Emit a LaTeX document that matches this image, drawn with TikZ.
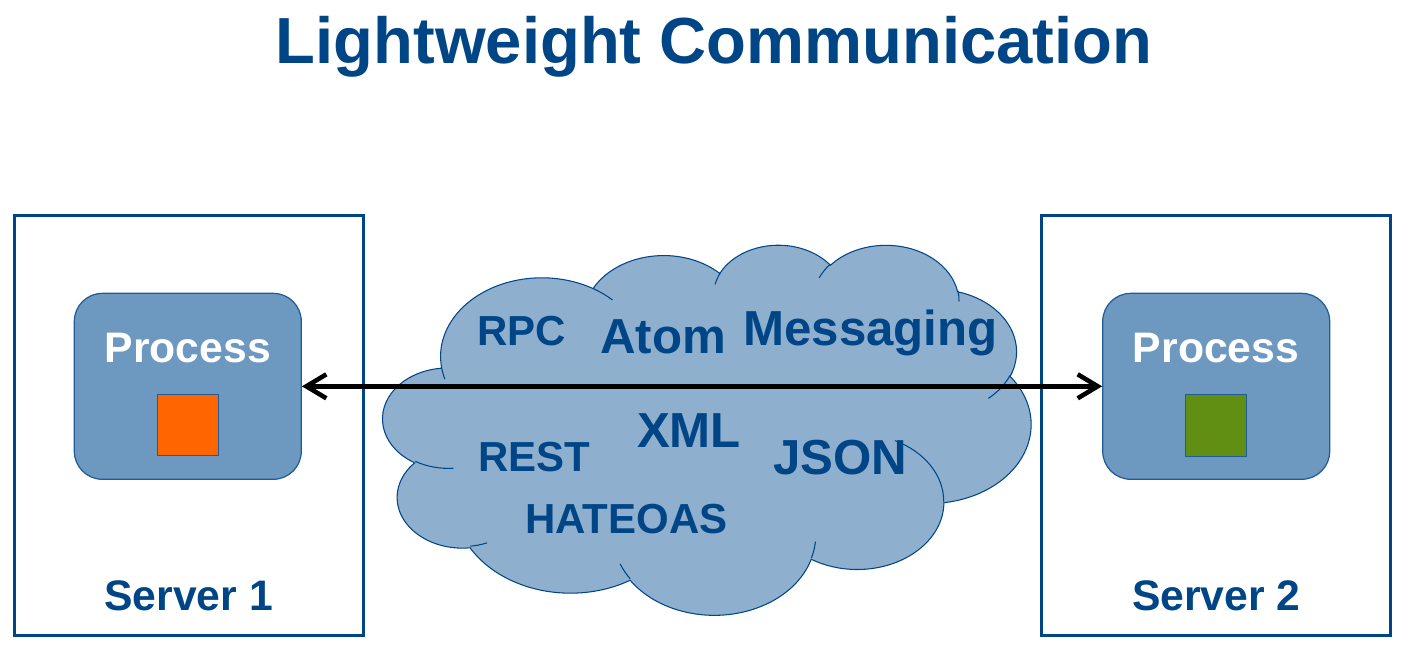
\documentclass[tikz,border=0pt]{standalone}
\usepackage{fontspec}
\setmainfont{Liberation Sans}
\usetikzlibrary{arrows.meta}
\definecolor{dblue}{HTML}{004586}
\definecolor{procfill}{HTML}{6D98C0}
\definecolor{cloudfill}{HTML}{8FAFCE}
\definecolor{procline}{HTML}{1F5C99}
\definecolor{orangesq}{HTML}{FF6600}
\definecolor{greensq}{HTML}{618F13}
% arc of the cloud outline: id, wR, hR, start angle, sweep (visual angles, y down)
\newcommand\cldprep[5]{%
  \pgfmathsetmacro\cldta{-((#4)+mod(atan2((#2)*sin(#4),(#3)*cos(#4))-(#4)+540,360)-180)}%
  \pgfmathsetmacro\cldtb{-((#4)+(#5)+mod(atan2((#2)*sin((#4)+(#5)),(#3)*cos((#4)+(#5)))-((#4)+(#5))+540,360)-180)}%
  \pgfmathsetmacro\cldrx{(#2)/432*0.1296}%
  \pgfmathsetmacro\cldry{(#3)/432*0.074}%
  \expandafter\xdef\csname cld#1\endcsname{ arc[x radius=\cldrx cm, y radius=\cldry cm, start angle=\cldta, end angle=\cldtb]}%
}
\begin{document}
\begin{tikzpicture}[x=0.02cm,y=-0.02cm,
  server/.style={draw=dblue,line width=1.7pt,minimum width=6.98cm,minimum height=8.4cm,inner sep=0pt},
  proc/.style={draw=procline,fill=procfill,line width=0.7pt,rounded corners=0.56cm,minimum width=4.54cm,minimum height=3.72cm,inner sep=0pt},
  sq/.style={draw=procline,line width=0.6pt,minimum size=1.23cm,inner sep=0pt},
  lbl/.style={font=\bfseries\fontsize{24.3}{28}\selectfont,text=dblue,anchor=base,inner sep=0pt},
  plbl/.style={lbl,text=white},
  small/.style={font=\bfseries\fontsize{23.9}{28}\selectfont,text=dblue,anchor=base,inner sep=0pt},
  big/.style={font=\bfseries\fontsize{28}{32}\selectfont,text=dblue,anchor=base,inner sep=0pt},
  titlestyle/.style={font=\bfseries\fontsize{37.1}{42}\selectfont,text=dblue,anchor=base,inner sep=0pt},
  cloudshape/.style={fill=cloudfill,draw=dblue,line width=0.6pt},
  cloudhint/.style={draw=dblue,line width=0.6pt},
  link/.style={line width=2.6pt,black,{Straight Barb[length=0.4cm,width=0.48cm]}-{Straight Barb[length=0.4cm,width=0.48cm]}}
]
\useasboundingbox (0,0) rectangle (1408,657);

\node[titlestyle] (title) at (714,63) {Lightweight Communication};

% servers
\node[server] (s1) at (188.75,425.5) {};
\node[server] (s2) at (1216.25,425.5) {};
\node[lbl] (s1l) at (188.7,610.5) {Server 1};
\node[lbl] (s2l) at (1216.3,610.5) {Server 2};

% processes
\node[proc] (p1) at (187.8,386.3) {};
\node[proc] (p2) at (1216.2,386.3) {};
\node[plbl] (p1l) at (187.8,362) {Process};
\node[plbl] (p2l) at (1216,362) {Process};
\node[sq,fill=orangesq] (q1) at (188,425.2) {};
\node[sq,fill=greensq] (q2) at (1216,425.3) {};

% cloud
\cldprep{a}{6753}{9190}{-190.48748}{123.78053}
\cldprep{b}{5333}{7267}{-144.10238}{89.94523}
\cldprep{c}{4365}{5945}{-145.80792}{99.72302}
\cldprep{d}{4857}{6595}{-130.98607}{117.24173}
\cldprep{e}{5333}{7273}{-78.70888}{109.02692}
\cldprep{f}{6775}{9220}{-46.26725}{130.269}
\cldprep{g}{5785}{7867}{0.62502}{114.03333}
\cldprep{h}{6752}{9215}{22.4516}{115.17255}
\cldprep{i}{7720}{10543}{66.24263}{75.71102}
\cldprep{j}{4360}{5918}{-274.94208}{146.73557}
\cldprep{k}{4345}{5945}{-246.8285}{152.51885}
\cldprep{ha}{4345}{5945}{86.742}{26.4295}
\cldprep{hb}{4360}{5918}{73.61047}{11.44747}
\cldprep{hc}{6752}{9215}{137.62415}{14.0811}
\cldprep{hd}{6752}{9215}{6.45327}{15.99835}
\cldprep{he}{5785}{7867}{-70.29235}{70.91737}
\cldprep{hf}{5333}{7273}{30.31803}{27.7515}
\cldprep{hg}{4857}{6595}{-13.74433}{14.8589}
\cldprep{hh}{4857}{6595}{-149.18145}{18.19537}
\cldprep{hi}{4365}{5945}{-163.49427}{17.68635}
\cldprep{hj}{6753}{9190}{-66.70695}{12.31935}
\cldprep{hk}{6753}{9190}{157.65435}{11.85817}

\path[cloudshape] (441.5,367.08) \clda\cldb\cldc\cldd\clde\cldf\cldg\cldh\cldi\cldj\cldk -- cycle;
\path[cloudhint]
  (453.395,468.20) \cldha
  (486.92,542.90) \cldhb
  (630.17,578.80) \cldhc
  (815.405,541.64) \cldhd
  (894.935,440.60) \cldhe
  (1009.97,375.50) \cldhf
  (957.86,290.47) \cldhg
  (819.17,277.85) \cldhh
  (715.115,284.43) \cldhi
  (593,288.47) \cldhj
  (444.905,379.23) \cldhk;

% cloud texts
\node[small] (rpc) at (521.5,345) {RPC};
\node[big] (atom) at (663,353) {Atom};
\node[big] (msg) at (870.5,345) {Messaging};
\node[big] (xml) at (689,447) {XML};
\node[small] (rest) at (534,471) {REST};
\node[big] (json) at (840.5,474) {JSON};
\node[small] (hat) at (626.5,533) {HATEOAS};

% connector
\draw[link] (p1.east) -- (p2.west);
\end{tikzpicture}
\end{document}
